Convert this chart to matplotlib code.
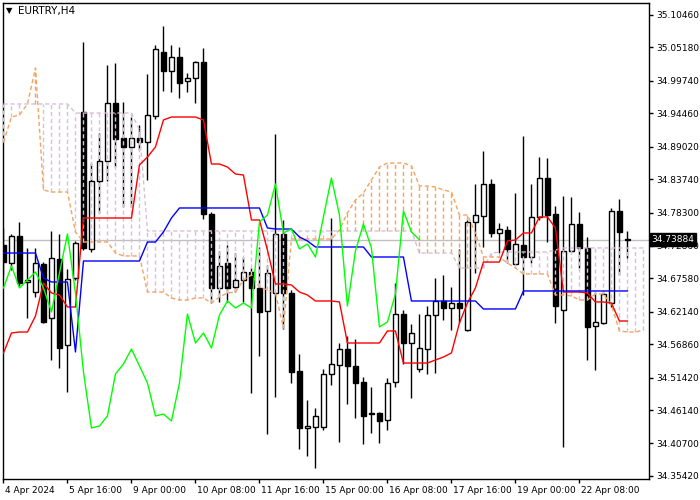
import matplotlib
matplotlib.use("Agg")
import matplotlib.pyplot as plt
import matplotlib.transforms as mtransforms
import numpy as np

# ==============================
# EURTRY H4 candles + Ichimoku
# ==============================

opens = [34.7302, 34.7008, 34.7448, 34.6699, 34.6536, 34.6992, 34.6113, 34.7073, 34.5673, 34.6764,
         34.9467, 34.7237, 34.8343, 34.8669, 34.9613, 34.9044, 34.8897, 34.9044, 34.8978, 34.9402,
         35.0443, 35.0134, 35.0362, 34.9971, 35.0020, 35.0281, 34.7807, 34.6602, 34.7008, 34.6618,
         34.6732, 34.6862, 34.6602, 34.6227, 34.6520, 34.7481, 34.6520, 34.5250, 34.4322, 34.4339,
         34.4339, 34.5202, 34.5348, 34.5608, 34.5332, 34.5071, 34.4567, 34.4567, 34.4453, 34.5071,
         34.6178, 34.5706, 34.5283, 34.5608, 34.6162, 34.6390, 34.6276, 34.6357, 34.5918, 34.7676,
         34.7774, 34.8295, 34.7497, 34.7546, 34.6992, 34.7302, 34.7106, 34.7758, 34.8392, 34.7807,
         34.6243, 34.7204, 34.7644, 34.7253, 34.5983, 34.6032, 34.6357, 34.7855, 34.7395]
highs = [34.7579, 34.7481, 34.7676, 34.7253, 34.7253, 34.7024, 34.7530, 34.7481, 34.6911, 34.7367,
         35.0606, 34.8636, 34.9125, 35.0232, 35.0264, 34.9630, 34.9385, 34.9255, 35.0085, 35.0557,
         35.0867, 35.0557, 35.0525, 35.0102, 35.0297, 35.0509, 34.7839, 34.7204, 34.7302, 34.7171,
         34.7106, 34.6927, 34.7269, 34.6976, 34.9109, 34.7709, 34.6569, 34.5527, 34.4778, 34.4648,
         34.5283, 34.7741, 34.5706, 34.5820, 34.5771, 34.5153, 34.4990, 34.4583, 34.5137, 34.6683,
         34.6243, 34.6016, 34.6178, 34.6308, 34.6764, 34.6813, 34.6618, 34.7237, 34.7709, 34.8295,
         34.8832, 34.8376, 34.7660, 34.7611, 34.8148, 34.9076, 34.8295, 34.8734, 34.8718, 34.7937,
         34.8099, 34.8083, 34.7839, 34.7432, 34.6536, 34.6553, 34.7904, 34.8050, 34.7530]
lows = [34.6813, 34.6895, 34.6634, 34.6113, 34.6455, 34.6032, 34.5429, 34.5299, 34.4909, 34.6732,
        34.7220, 34.7188, 34.7823, 34.8343, 34.8571, 34.7920, 34.7920, 34.8848, 34.8360, 34.9353,
        34.9809, 34.9792, 34.9695, 34.9792, 34.9613, 34.7725, 34.6357, 34.6374, 34.6374, 34.6536,
        34.6374, 34.4892, 34.5494, 34.4225, 34.4827, 34.5934, 34.5055, 34.3980, 34.3866, 34.3671,
        34.4290, 34.5022, 34.4095, 34.4713, 34.4485, 34.4062, 34.4241, 34.4078, 34.4290, 34.4990,
        34.5364, 34.4811, 34.5234, 34.5202, 34.5218, 34.6081, 34.5918, 34.6032, 34.5902, 34.6846,
        34.7269, 34.7432, 34.7171, 34.7008, 34.6976, 34.6488, 34.7008, 34.7709, 34.7350, 34.6032,
        34.4013, 34.7188, 34.6927, 34.5429, 34.5267, 34.6016, 34.6292, 34.6813, 34.7090]
closes = [34.7024, 34.7448, 34.6683, 34.6732, 34.7008, 34.6048, 34.7090, 34.5625, 34.6748, 34.7334,
          34.7253, 34.8343, 34.8669, 34.9613, 34.9027, 34.8897, 34.9044, 34.8978, 34.9418, 35.0492,
          35.0134, 35.0362, 34.9939, 35.0020, 35.0281, 34.7807, 34.6602, 34.6960, 34.6602, 34.6732,
          34.6862, 34.6602, 34.6211, 34.6846, 34.7481, 34.6520, 34.5234, 34.4322, 34.4355, 34.4518,
          34.5202, 34.5364, 34.5608, 34.5332, 34.5055, 34.4518, 34.4550, 34.4437, 34.5055, 34.6178,
          34.5706, 34.5869, 34.5625, 34.6162, 34.6390, 34.6276, 34.6357, 34.6276, 34.7676, 34.7790,
          34.8295, 34.7497, 34.7562, 34.7237, 34.7318, 34.7106, 34.7758, 34.8392, 34.7790, 34.6308,
          34.7204, 34.7644, 34.7253, 34.5967, 34.6048, 34.6504, 34.7855, 34.7513, 34.73884]

tenkan = [34.5543, 34.5869, 34.5885, 34.5885, 34.6146, 34.6683, 34.6520, 34.6488, 34.6292, 34.6292,
          34.7741, 34.7741, 34.7741, 34.7741, 34.7741, 34.7741, 34.7741, 34.8604, 34.8734, 34.8897,
          34.9337, 34.9385, 34.9385, 34.9385, 34.9385, 34.9337, 34.8620, 34.8620, 34.8571, 34.8457,
          34.8441, 34.7709, 34.7709, 34.7220, 34.6667, 34.6667, 34.6650, 34.6536, 34.6488, 34.6390,
          34.6390, 34.6390, 34.6374, 34.5706, 34.5706, 34.5706, 34.5706, 34.5706, 34.5902, 34.5902,
          34.5380, 34.5380, 34.5380, 34.5380, 34.5429, 34.5478, 34.5543, 34.6032, 34.6357, 34.6602,
          34.7024, 34.7024, 34.7024, 34.7367, 34.7383, 34.7497, 34.7497, 34.7758, 34.7758, 34.7579,
          34.6536, 34.6536, 34.6536, 34.6520, 34.6374, 34.6374, 34.6357, 34.6064, 34.6064]
kijun = [34.7171, 34.7171, 34.7171, 34.7171, 34.7171, 34.6764, 34.6699, 34.6699, 34.6699, 34.5560,
         34.7041, 34.7041, 34.7041, 34.7041, 34.7041, 34.7041, 34.7041, 34.7041, 34.7350, 34.7350,
         34.7513, 34.7741, 34.7904, 34.7904, 34.7904, 34.7904, 34.7904, 34.7904, 34.7904, 34.7904,
         34.7904, 34.7904, 34.7904, 34.7579, 34.7562, 34.7562, 34.7562, 34.7432, 34.7367, 34.7269,
         34.7269, 34.7269, 34.7269, 34.7269, 34.7269, 34.7269, 34.7106, 34.7106, 34.7106, 34.7106,
         34.7106, 34.6390, 34.6390, 34.6390, 34.6390, 34.6390, 34.6390, 34.6390, 34.6390, 34.6390,
         34.6260, 34.6260, 34.6260, 34.6260, 34.6260, 34.6553, 34.6553, 34.6553, 34.6553, 34.6553,
         34.6553, 34.6553, 34.6553, 34.6553, 34.6553, 34.6553, 34.6553, 34.6553, 34.6553]
span_a = [34.8978, 34.9385, 34.9418, 34.9597, 35.0183, 34.8197, 34.8164, 34.8164, 34.8164, 34.7513,
          34.7350, 34.7350, 34.7350, 34.7350, 34.7171, 34.7123, 34.7123, 34.7123, 34.6536, 34.6536,
          34.6536, 34.6439, 34.6406, 34.6406, 34.6439, 34.6439, 34.6357, 34.6455, 34.6520, 34.6536,
          34.6732, 34.6813, 34.6618, 34.6569, 34.6520, 34.5951, 34.7399, 34.7399, 34.7399, 34.7399,
          34.7399, 34.7399, 34.7546, 34.7823, 34.8034, 34.8148, 34.8360, 34.8571, 34.8636, 34.8636,
          34.8636, 34.8588, 34.8262, 34.8262, 34.8246, 34.8197, 34.8164, 34.7790, 34.7790, 34.7497,
          34.7106, 34.7106, 34.7106, 34.7008, 34.6927, 34.6830, 34.6830, 34.6830, 34.6830, 34.6488,
          34.6488, 34.6472, 34.6406, 34.6406, 34.6504, 34.6504, 34.6325, 34.5902, 34.5885, 34.5885,
          34.5918]
span_b = [34.9597, 34.9597, 34.9597, 34.9597, 34.9597, 34.9597, 34.9597, 34.9597, 34.9597, 34.9450,
          34.9450, 34.9450, 34.9450, 34.9450, 34.9450, 34.9450, 34.9450, 34.9174, 34.7530, 34.7530,
          34.7530, 34.7530, 34.7530, 34.7530, 34.7530, 34.7530, 34.7530, 34.7530, 34.7530, 34.7530,
          34.7530, 34.7530, 34.7530, 34.7530, 34.7530, 34.7530, 34.7530, 34.7530, 34.7530, 34.7530,
          34.7530, 34.7530, 34.7530, 34.7530, 34.7530, 34.7530, 34.7530, 34.7530, 34.7530, 34.7530,
          34.7530, 34.7530, 34.7171, 34.7171, 34.7171, 34.7171, 34.7171, 34.6927, 34.6927, 34.6927,
          34.6927, 34.7171, 34.7188, 34.7188, 34.7188, 34.7188, 34.7188, 34.7188, 34.7188, 34.7220,
          34.7253, 34.7253, 34.7253, 34.7253, 34.7253, 34.7253, 34.7253, 34.7253, 34.7253, 34.7253,
          34.7253]

price_ticks = [35.10460, 35.05180, 34.99740, 34.94460, 34.89020, 34.83740, 34.78300, 34.72860,
               34.67580, 34.62140, 34.56860, 34.51420, 34.46140, 34.40700, 34.35420]
time_tick_bars = [0, 8, 16, 24, 32, 40, 48, 56, 64, 72]
time_labels = ["4 Apr 2024", "5 Apr 16:00", "9 Apr 00:00", "10 Apr 08:00", "11 Apr 16:00",
               "15 Apr 00:00", "16 Apr 08:00", "17 Apr 16:00", "19 Apr 00:00", "22 Apr 08:00"]
last_price = 34.73884
chikou_shift = 26

ORANGE = "#F4A460"
THISTLE = "#D8BFD8"
FS = 6.5

fig = plt.figure(figsize=(7, 5), dpi=100)
ax = fig.add_axes([3 / 700, 21 / 500, 646 / 700, 476 / 500])
ax.set_xlim(-0.06, 80.7)
ax.set_ylim(34.3492, 35.1241)

n = len(closes)
x = np.arange(n)
xs = np.arange(len(span_a))

# current price line
ax.axhline(last_price, color="#C0C0C0", lw=1, zorder=1)

# candles
o = np.array(opens)
c = np.array(closes)
ax.vlines(x, lows, highs, color="black", lw=1, zorder=2)
bull = c >= o
ax.bar(x, np.abs(c - o), bottom=np.minimum(o, c), width=0.55,
       color=np.where(bull, "white", "black"), edgecolor="black", lw=1, zorder=3)

# kumo hatch + span lines
a = np.array(span_a)
b = np.array(span_b)
hatch_cols = [ORANGE if a[i] > b[i] else THISTLE for i in range(len(a))]
ax.vlines(xs, np.minimum(a, b), np.maximum(a, b), colors=hatch_cols,
          linestyles=(0, (3, 2)), lw=1, zorder=4)
ax.plot(xs, span_a, color=ORANGE, lw=1, ls=(0, (3, 2)), zorder=4)
ax.plot(xs, span_b, color=THISTLE, lw=1, ls=(0, (3, 2)), zorder=4)

# tenkan / kijun / chikou
ax.plot(x, tenkan, color="#FF0000", lw=1, zorder=5)
ax.plot(x, kijun, color="#0000FF", lw=1, zorder=5)
ax.plot(x[:n - chikou_shift], closes[chikou_shift:], color="#00FF00", lw=1, zorder=5)

# axes styling
for sp in ax.spines.values():
    sp.set_color("black")
    sp.set_linewidth(1)
ax.yaxis.tick_right()
ax.set_yticks(price_ticks)
ax.set_yticklabels([f"{v:.5f}" for v in price_ticks])
ax.tick_params(axis="y", direction="out", length=3, width=1, pad=2, labelsize=FS)
ax.set_xticks(time_tick_bars)
ax.set_xticklabels(time_labels, ha="left")
ax.tick_params(axis="x", direction="out", length=3, width=1, pad=2, labelsize=FS)
offset = mtransforms.ScaledTranslation(2 / 100, 0, fig.dpi_scale_trans)
for lab in ax.get_xticklabels():
    lab.set_transform(lab.get_transform() + offset)

# last price box
trans = mtransforms.blended_transform_factory(ax.transAxes, ax.transData)
ax.text(1.004, last_price, f"{last_price:.5f}", transform=trans, ha="left", va="center",
        fontsize=FS, color="white", clip_on=False, zorder=10,
        bbox=dict(facecolor="black", edgecolor="black", boxstyle="square,pad=0.2"))

# title
fig.text(6 / 700, 1 - 11 / 500, "\u25bc", fontsize=6, va="center", ha="left")
fig.text(18 / 700, 1 - 11 / 500, "EURTRY,H4", fontsize=7.5, va="center", ha="left")

plt.savefig("out.png", dpi=100)
